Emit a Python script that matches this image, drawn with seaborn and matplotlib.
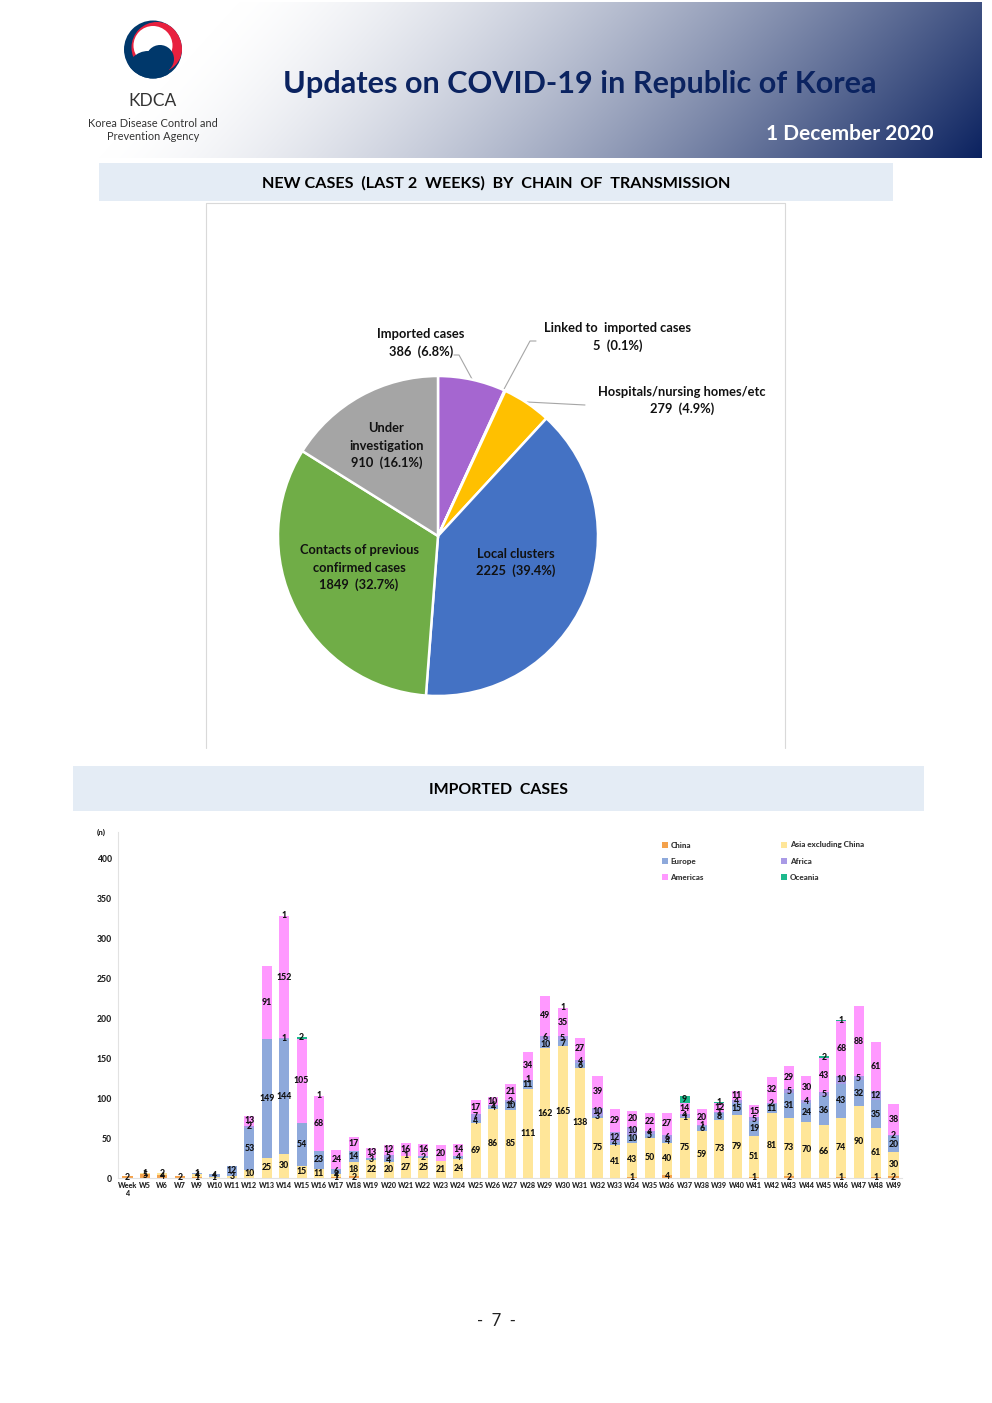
import numpy as np
import matplotlib
matplotlib.use("Agg")
import matplotlib.pyplot as plt
from matplotlib.patches import Circle, Rectangle
import seaborn as sns

# ---------- data ----------
pie_labels = ["Imported cases", "Linked to imported cases", "Hospitals/nursing homes/etc",
              "Local clusters", "Contacts of previous confirmed cases", "Under investigation"]
pie_values = [386, 5, 279, 2225, 1849, 910]
pie_colors = ["#A566D0", "#5B9BD5", "#FFC000", "#4472C4", "#70AD47", "#A5A5A5"]

weeks = ["Week\n4", "W5", "W6", "W7", "W9", "W10", "W11", "W12", "W13", "W14", "W15", "W16", "W17",
         "W18", "W19", "W20", "W21", "W22", "W23", "W24", "W25", "W26", "W27", "W28", "W29", "W30",
         "W31", "W32", "W33", "W34", "W35", "W36", "W37", "W38", "W39", "W40", "W41", "W42", "W43",
         "W44", "W45", "W46", "W47", "W48", "W49"]
china    = [2, 5, 4, 2, 1, 0, 0, 0, 0, 0, 0, 0, 1, 2, 0, 0, 0, 0, 0, 0, 0, 0, 0, 0, 0, 0,
            0, 0, 0, 1, 0, 4, 0, 0, 0, 0, 1, 0, 2, 0, 0, 1, 0, 1, 2]
asia     = [0, 1, 2, 0, 4, 1, 3, 10, 25, 30, 15, 11, 4, 18, 22, 20, 27, 25, 21, 24, 69, 86, 85, 111, 162, 165,
            138, 75, 41, 43, 50, 40, 75, 59, 73, 79, 51, 81, 73, 70, 66, 74, 90, 61, 30]
europe   = [0, 0, 0, 0, 1, 4, 12, 53, 149, 144, 54, 23, 6, 14, 3, 4, 1, 2, 0, 4, 4, 4, 10, 11, 10, 7,
            6, 3, 4, 10, 5, 4, 1, 6, 8, 15, 19, 11, 31, 24, 36, 43, 32, 35, 20]
africa   = [0, 0, 0, 0, 0, 0, 0, 2, 0, 1, 0, 0, 0, 0, 0, 5, 0, 0, 0, 0, 7, 1, 2, 1, 6, 5,
            4, 10, 12, 10, 4, 6, 4, 1, 1, 4, 5, 2, 5, 4, 5, 10, 5, 12, 2]
americas = [0, 0, 0, 0, 0, 0, 0, 13, 91, 152, 105, 68, 24, 17, 13, 12, 16, 16, 20, 14, 17, 10, 21, 34, 49, 35,
            27, 39, 29, 20, 22, 27, 14, 20, 12, 11, 15, 32, 29, 30, 43, 68, 88, 61, 38]
oceania  = [0, 0, 0, 0, 0, 0, 0, 0, 0, 1, 2, 1, 0, 0, 0, 0, 0, 0, 0, 0, 0, 0, 0, 0, 0, 1,
            0, 0, 0, 0, 0, 0, 9, 0, 1, 0, 0, 0, 0, 0, 2, 1, 0, 0, 0]
series_names = ["China", "Asia excluding China", "Europe", "Africa", "Americas", "Oceania"]
series_colors = ["#F4A24C", "#FFE699", "#8EA9DB", "#A99AE6", "#FF99FF", "#1DB98C"]
y_ticks = [0, 50, 100, 150, 200, 250, 300, 350, 400]

# ---------- set-up ----------
sns.set_theme(style="white")
plt.rcParams["font.family"] = ["Lato", "DejaVu Sans"]
W, H = 992, 1403
fig = plt.figure(figsize=(W / 100, H / 100), dpi=100, facecolor="white")

def px_axes(x0, y0, x1, y1, **kw):
    return fig.add_axes([x0 / W, 1 - y1 / H, (x1 - x0) / W, (y1 - y0) / H], **kw)

deco = px_axes(0, 0, W, H)
deco.set_xlim(0, W)
deco.set_ylim(H, 0)
deco.axis("off")

# header gradient
gx, gy = np.meshgrid(np.arange(0, 982), np.arange(2, 158))
t = np.clip((gx + 0.9 * gy - 240) / 884.0, 0, 1) ** 1.45
start, end = np.array([1, 1, 1.0]), np.array([10, 33, 95]) / 255
img = start[None, None, :] * (1 - t[..., None]) + end[None, None, :] * t[..., None]
deco.imshow(img, extent=(0, 982, 158, 2), aspect="auto", zorder=0)
deco.set_xlim(0, W)
deco.set_ylim(H, 0)

# logo
navy, red = "#00386B", "#E8213F"
main = Circle((153, 49.5), 29, fc=navy, ec="none", zorder=1)
deco.add_patch(main)
for cx, cy, r, c in [(157, 47.5, 25.5, red), (153, 45.5, 19.5, "white"),
                     (160, 59, 14, navy), (148, 72, 21, navy)]:
    p = Circle((cx, cy), r, fc=c, ec="none", zorder=2)
    deco.add_patch(p)
    p.set_clip_path(main)

deco.text(153, 101.5, "KDCA", ha="center", va="center", fontsize=12.5, color="#333333", zorder=3)
deco.text(153, 123.5, "Korea Disease Control and", ha="center", va="center", fontsize=7.9, color="#333333")
deco.text(153, 136, "Prevention Agency", ha="center", va="center", fontsize=7.9, color="#333333")
deco.text(580, 84, "Updates on COVID-19 in Republic of Korea", ha="center", va="center",
          fontsize=22.1, fontweight="bold", color="#0B2360", zorder=3)
deco.text(850, 134, "1 December 2020", ha="center", va="center", fontsize=15,
          fontweight="bold", color="white", zorder=3)

# banners
for (x0, y0, x1, y1) in [(99, 163, 893, 201), (73, 766, 924, 811)]:
    deco.add_patch(Rectangle((x0, y0), x1 - x0, y1 - y0, fc="#E4ECF5", ec="none", zorder=1))
deco.text(496.5, 183.5, "NEW CASES  (LAST 2  WEEKS)  BY  CHAIN  OF  TRANSMISSION", ha="center", va="center",
          fontsize=11.6, fontweight="bold", color="black", zorder=3)
deco.text(498.5, 789.5, "IMPORTED  CASES", ha="center", va="center", fontsize=11.4, fontweight="bold",
          color="black", zorder=3)
deco.text(496.5, 1321.5, "-  7  -", ha="center", va="center", fontsize=12, color="#222222")

# pie panel outline
deco.plot([206, 206, 785, 785], [748, 203, 203, 748], color="#D9D9D9", lw=0.8, zorder=1)

# leader lines
for xs, ys in [([454, 459, 472], [355, 355, 379]),
               ([536, 530, 503], [341, 341, 391]),
               ([585, 527], [405, 402])]:
    deco.plot(xs, ys, color="#A6A6A6", lw=0.8, zorder=1)

# pie
pie_ax = px_axes(278, 376, 598, 696)
pie_ax.pie(pie_values, colors=pie_colors, startangle=90, counterclock=False, radius=1,
           wedgeprops=dict(edgecolor="white", linewidth=1.8))
pie_ax.set_xlim(-1, 1)
pie_ax.set_ylim(-1, 1)
for w in pie_ax.patches:
    w.set_clip_on(False)

total = sum(pie_values)
def pct(v):
    return f"{v}  ({100 * v / total:.1f}%)"

pie_text = [
    (421, [334.5, 351.5], ["Imported cases", pct(pie_values[0])]),
    (618, [328.5, 345.5], ["Linked to  imported cases", pct(pie_values[1])]),
    (682, [391.5, 408.5], ["Hospitals/nursing homes/etc", pct(pie_values[2])]),
    (516, [553.5, 570.5], ["Local clusters", pct(pie_values[3])]),
    (359, [550.5, 567.5, 584.5], ["Contacts of previous", "confirmed cases", pct(pie_values[4])]),
    (386.5, [428.5, 445.5, 462.5], ["Under", "investigation", pct(pie_values[5])]),
]
txt_ax = px_axes(0, 0, W, H)
txt_ax.set_xlim(0, W)
txt_ax.set_ylim(H, 0)
txt_ax.axis("off")
txt_ax.patch.set_alpha(0)
for x, ys, lines in pie_text:
    for y, s in zip(ys, lines):
        txt_ax.text(x, y, s, ha="center", va="center", fontsize=9.25, fontweight="bold", color="#111111")

# stacked bars
ax = px_axes(118, 832, 902, 1178)
ax.patch.set_alpha(0)
series = [china, asia, europe, africa, americas, oceania]
bottom = np.zeros(len(weeks))
for name, col, vals in zip(series_names, series_colors, series):
    vals = np.array(vals, dtype=float)
    sns.barplot(x=weeks, y=vals, bottom=bottom, color=col, saturation=1, width=0.58,
                label=name, errorbar=None, ax=ax, linewidth=0)
    bottom = bottom + vals
for cont, vals in zip(ax.containers, series):
    ax.bar_label(cont, labels=[str(v) if v else "" for v in vals], label_type="center",
                 fontsize=6.3, fontweight="black", color="#111111", padding=0)

ax.set_xlim(-0.545, 44.49)
ax.set_ylim(0, 432.5)
ax.set_yticks(y_ticks)
ax.tick_params(axis="both", length=0)
ax.tick_params(axis="y", labelsize=6.2, labelcolor="#222222", pad=4.5)
ax.tick_params(axis="x", labelsize=5.2, labelcolor="#222222", pad=3)
for lab in ax.get_xticklabels() + ax.get_yticklabels():
    lab.set_fontweight("black")
for s in ["top", "right"]:
    ax.spines[s].set_visible(False)
for s in ["left", "bottom"]:
    ax.spines[s].set_color("#E2E2E2")
    ax.spines[s].set_linewidth(0.8)
ax.set_xlabel("")
ax.set_ylabel("")
ax.text(-0.022, 1.0, "(n)", transform=ax.transAxes, ha="center", va="center", fontsize=5.8,
        fontweight="black", color="#222222")

handles, labels = ax.get_legend_handles_labels()
idx = [0, 2, 4, 1, 3, 5]
leg = ax.legend([handles[i] for i in idx], [labels[i] for i in idx], ncol=2, frameon=False,
                loc="upper left", bbox_to_anchor=((662 - 118) / 784, (1178 - 841.5) / 346),
                fontsize=5.8, handlelength=0.75, handleheight=0.75, handletextpad=0.3,
                columnspacing=9.6, labelspacing=1.15, borderpad=0, borderaxespad=0)
for t_ in leg.get_texts():
    t_.set_fontweight("black")
    t_.set_color("#333333")

fig.savefig("out.png", dpi=100, facecolor="white")
